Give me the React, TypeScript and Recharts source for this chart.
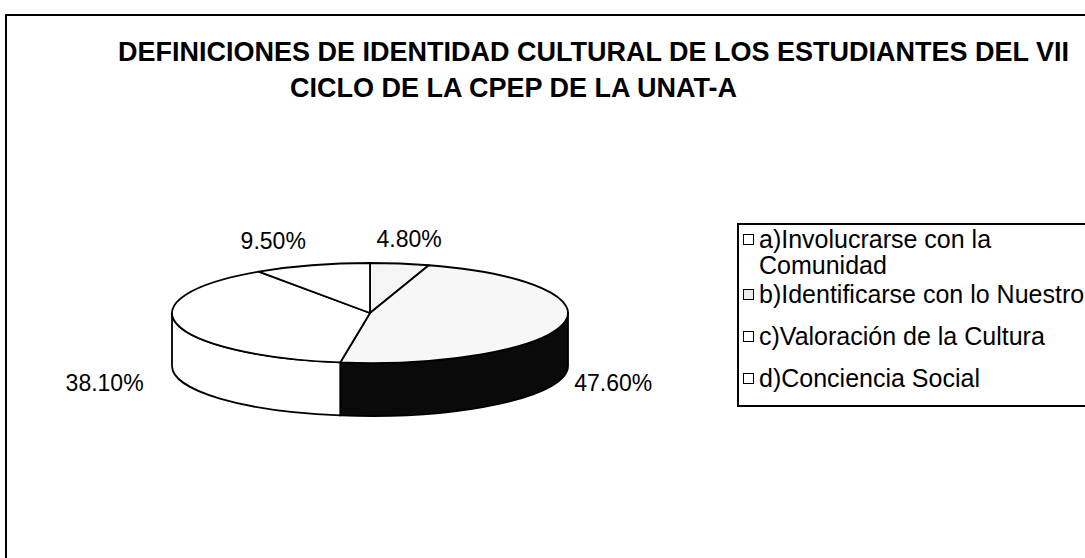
import React from "react";
import { PieChart, Pie, Cell, Legend } from "recharts";

// categories and values
const categories = [
  "a)Involucrarse con la Comunidad",
  "b)Identificarse con lo Nuestro",
  "c)Valoración de la Cultura",
  "d)Conciencia Social",
];
const percentages = [4.8, 47.6, 38.1, 9.5];

const titleLines = [
  "DEFINICIONES DE IDENTIDAD CULTURAL DE LOS ESTUDIANTES DEL VII",
  "CICLO DE LA CPEP DE LA UNAT-A",
];

const topColors = ["#f5f5f5", "#f7f7f7", "#ffffff", "#ffffff"];
const sideColors = ["#ffffff", "#0a0a0a", "#ffffff", "#ffffff"];
const swatchColors = ["#ffffff", "#ececec", "#ffffff", "#ffffff"];

const data = categories.map((name, i) => ({ name, value: percentages[i] }));

const FONT = "Arial, 'Liberation Sans', sans-serif";
const TILT = 0.2525;
const DEPTH = 53;
const RAD = Math.PI / 180;

const pt = (cx: number, cy: number, rx: number, ry: number, a: number) => [
  cx + rx * Math.cos(a * RAD),
  cy - ry * Math.sin(a * RAD),
];

// flattened sector + the front wall of the disc
const Slice3D = (props: any) => {
  const { cx, cy, outerRadius, startAngle, endAngle, fill, name } = props;
  const idx = categories.indexOf(name ?? props.payload?.name);
  const rx = outerRadius;
  const ry = outerRadius * TILT;
  const hi = Math.max(startAngle, endAngle);
  const lo = Math.min(startAngle, endAngle);
  const [x1, y1] = pt(cx, cy, rx, ry, hi);
  const [x2, y2] = pt(cx, cy, rx, ry, lo);
  const large = hi - lo > 180 ? 1 : 0;
  const top = `M${cx},${cy} L${x1},${y1} A${rx},${ry} 0 ${large} 1 ${x2},${y2} Z`;

  const sides: string[] = [];
  for (let m = -2; m <= 1; m++) {
    const fHi = Math.min(hi, 360 * m);
    const fLo = Math.max(lo, 360 * m - 180);
    if (fHi - fLo > 0.01) {
      const [a1, b1] = pt(cx, cy, rx, ry, fHi);
      const [a2, b2] = pt(cx, cy, rx, ry, fLo);
      sides.push(
        `M${a1},${b1} A${rx},${ry} 0 0 1 ${a2},${b2} L${a2},${b2 + DEPTH} A${rx},${ry} 0 0 0 ${a1},${b1 + DEPTH} Z`
      );
    }
  }

  return (
    <g>
      {sides.map((d, i) => (
        <path
          key={i}
          d={d}
          fill={sideColors[idx] ?? "#fff"}
          stroke="#000"
          strokeWidth={1.8}
          strokeLinejoin="round"
        />
      ))}
      <path d={top} fill={fill} stroke="#000" strokeWidth={1.8} strokeLinejoin="round" />
    </g>
  );
};

const renderLabel = (props: any) => {
  const { cx, cy, midAngle, outerRadius, value } = props;
  const rx = outerRadius;
  const ry = outerRadius * TILT;
  const c = Math.cos(midAngle * RAD);
  const s = Math.sin(midAngle * RAD);
  const x = cx + rx * 1.25 * c + (c < 0 ? -24 : 2);
  const y = cy - ry * 1.5 * s + (s < 0 ? DEPTH : 0);
  return (
    <text
      x={x}
      y={y}
      textAnchor="middle"
      dominantBaseline="central"
      fontSize={23}
      fontFamily={FONT}
      fill="#000"
    >
      {Number(value).toFixed(2)}%
    </text>
  );
};

const LegendBox = (props: any) => {
  const items = props.payload && props.payload.length ? props.payload : categories.map((c) => ({ value: c }));
  return (
    <div
      style={{
        borderTop: "2px solid #000",
        borderLeft: "2px solid #000",
        borderBottom: "2px solid #000",
        borderRight: "none",
        width: 420,
        padding: "6px 0",
        background: "#fff",
        fontFamily: FONT,
        fontSize: 25,
        color: "#000",
      }}
    >
      {items.map((entry: any, i: number) => (
        <div key={i} style={{ height: 42, display: "flex", alignItems: "center" }}>
          <div style={{ display: "flex", alignItems: "flex-start" }}>
            <div style={{ height: 26, width: 18, display: "flex", alignItems: "center", justifyContent: "center" }}>
              <div
                style={{
                  width: 9,
                  height: 9,
                  border: "1.6px solid #000",
                  background: swatchColors[i],
                }}
              />
            </div>
            <div style={{ width: 335, lineHeight: "26px", paddingLeft: 2 }}>{entry.value}</div>
          </div>
        </div>
      ))}
    </div>
  );
};

export default function App() {
  return (
    <div
      style={{
        position: "absolute",
        left: 0,
        top: 0,
        width: 1085,
        height: 558,
        overflow: "hidden",
        background: "#fff",
      }}
    >
      <div
        style={{
          position: "absolute",
          left: 5,
          top: 14,
          width: 1100,
          height: 560,
          borderTop: "2px solid #000",
          borderLeft: "2px solid #000",
        }}
      />
      <PieChart
        width={1085}
        height={558}
        margin={{ top: 0, right: 0, bottom: 0, left: 0 }}
        style={{ position: "absolute", left: 0, top: 0 }}
      >
        <Pie
          data={data}
          dataKey="value"
          nameKey="name"
          cx={370}
          cy={313}
          outerRadius={198}
          startAngle={90}
          endAngle={-270}
          stroke="#000"
          label={renderLabel}
          labelLine={false}
          activeShape={Slice3D}
          inactiveShape={Slice3D}
          shape={Slice3D}
          isAnimationActive={false}
        >
          {data.map((d, i) => (
            <Cell key={d.name} fill={topColors[i]} />
          ))}
        </Pie>
        <Legend
          layout="vertical"
          align="right"
          verticalAlign="top"
          content={LegendBox}
          wrapperStyle={{ left: 737, top: 223, right: "auto", width: 420 }}
        />
      </PieChart>
      <div
        style={{
          position: "absolute",
          left: 118,
          top: 36,
          fontFamily: FONT,
          fontWeight: "bold",
          fontSize: 27,
          lineHeight: "32px",
          whiteSpace: "nowrap",
          color: "#000",
        }}
      >
        {titleLines[0]}
      </div>
      <div
        style={{
          position: "absolute",
          left: 290,
          top: 72,
          fontFamily: FONT,
          fontWeight: "bold",
          fontSize: 27,
          lineHeight: "32px",
          whiteSpace: "nowrap",
          color: "#000",
        }}
      >
        {titleLines[1]}
      </div>
    </div>
  );
}
